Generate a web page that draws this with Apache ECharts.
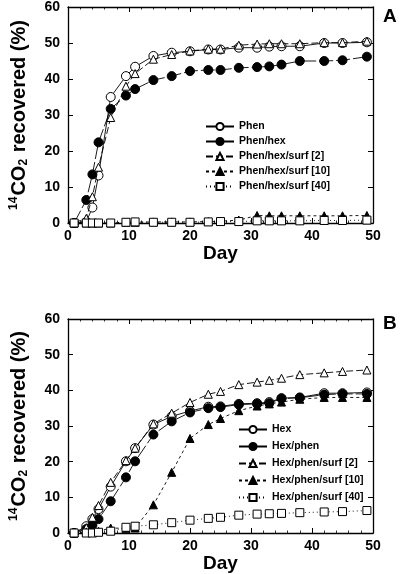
<!DOCTYPE html>
<html>
<head>
<meta charset="utf-8">
<script src="https://cdn.jsdelivr.net/npm/echarts@6/dist/echarts.min.js"></script>
<style>
html,body{margin:0;padding:0;background:#fff;}
#c{width:400px;height:574px;}
</style>
</head>
<body>
<div id="c"></div>
<script>
// ---- data ----
var days = [1, 3, 4, 5, 7, 9.5, 11, 14, 17, 20, 23, 25, 28, 31, 33, 35, 38, 42, 45, 49];

// Panel A
var namesA = ['Phen', 'Phen/hex', 'Phen/hex/surf [2]', 'Phen/hex/surf [10]', 'Phen/hex/surf [40]'];
var phen          = [0, 0.3, 4.3, 13.2, 35.0, 40.8, 43.4, 46.4, 47.3, 47.7, 48.2, 48.2, 48.7, 48.7, 49.0, 49.1, 49.1, 50.0, 50.0, 50.2];
var phenHex       = [0, 6.4, 13.5, 22.4, 31.7, 35.4, 37.2, 39.7, 40.8, 42.2, 42.5, 42.5, 43.1, 43.3, 43.5, 44.0, 45.0, 45.0, 45.2, 46.2];
var phenHexSurf2  = [0, 1.3, 7.3, 15.5, 29.3, 38.0, 41.5, 45.5, 46.8, 47.8, 48.3, 48.3, 49.4, 49.7, 49.8, 49.8, 49.8, 50.1, 50.1, 50.5];
var phenHexSurf10 = [0, 0, 0, 0, 0, 0.2, 0.2, 0.3, 0.3, 0.3, 0.4, 0.5, 0.8, 2.1, 2.0, 2.0, 2.0, 2.0, 2.0, 2.1];
var phenHexSurf40 = [0, 0, 0, 0, 0, 0.2, 0.3, 0.2, 0.2, 0.2, 0.3, 0.4, 0.4, 0.6, 0.6, 0.6, 0.6, 0.7, 0.7, 0.8];

// Panel B
var namesB = ['Hex', 'Hex/phen', 'Hex/phen/surf [2]', 'Hex/phen/surf [10]', 'Hex/phen/surf [40]'];
var hex           = [0, 1.9, 3.9, 6.7, 13.0, 20.1, 23.8, 30.4, 32.7, 34.2, 35.4, 35.5, 36.2, 36.4, 36.7, 37.8, 38.0, 39.2, 39.2, 39.4];
var hexPhen       = [0, 1.1, 2.2, 3.9, 8.9, 15.6, 20.1, 27.6, 31.3, 33.8, 35.0, 35.3, 36.0, 36.2, 36.4, 37.7, 37.9, 38.8, 39.0, 39.0];
var hexPhenSurf2  = [0, 1.5, 4.4, 7.7, 14.2, 20.3, 23.8, 30.6, 33.6, 36.6, 38.9, 39.7, 41.6, 42.3, 42.8, 43.4, 44.4, 44.9, 45.3, 45.7];
var hexPhenSurf10 = [0, 0.3, 0.3, 0.5, 1.4, 1.3, 1.4, 7.9, 17.0, 26.5, 30.4, 32.1, 34.3, 35.6, 36.2, 36.7, 37.5, 38.0, 38.0, 38.0];
var hexPhenSurf40 = [0, 0, 0, 0.2, 0.5, 1.6, 1.9, 2.3, 2.9, 3.6, 4.1, 4.4, 5.0, 5.3, 5.4, 5.5, 5.7, 5.9, 6.0, 6.3];

// ---- styles ----
var FONT = 'Liberation Sans, Arial, sans-serif';
function pairs(vals){ return days.map(function(d,i){ return [d, vals[i]]; }); }

var styleDefs = [
  {symbol:'circle',   fill:'#fff', dash:'solid'},
  {symbol:'circle',   fill:'#000', dash:[14,3]},
  {symbol:'triangle', fill:'#fff', dash:[7,3]},
  {symbol:'triangle', fill:'#000', dash:[3,3]},
  {symbol:'rect',     fill:'#fff', dash:[1,3]}
];

function mkSeries(name, vals, k, axisIdx){
  var s = styleDefs[k];
  return {
    name: name, type:'line', data: pairs(vals),
    xAxisIndex: axisIdx, yAxisIndex: axisIdx,
    symbol: s.symbol,
    symbolSize: s.symbol === 'triangle' ? 8 : (s.symbol === 'rect' ? 8 : 9),
    itemStyle: {color: s.fill, borderColor:'#000', borderWidth:1},
    lineStyle: {color:'#000', width:0.9, type: s.dash},
    animation:false, z: 2 + k
  };
}

function xAx(grid, top){
  return {
    type:'value', gridIndex:grid, min:0, max:50, interval:10,
    position: top ? 'top' : 'bottom',
    axisLine:{show:true, onZero:false, lineStyle:{color:'#000', width:1.3}},
    axisTick:{show:true, inside:true, length:5, lineStyle:{color:'#000', width:1}},
    minorTick:{show:true, splitNumber:5, length:2.5, lineStyle:{color:'#000', width:0.8}},
    splitLine:{show:false},
    axisLabel:{show:!top, color:'#000', fontFamily:FONT, fontWeight:'bold', fontSize:14, margin:6},
    name: top ? '' : 'Day',
    nameLocation:'middle', nameGap:17,
    nameTextStyle:{color:'#000', fontFamily:FONT, fontWeight:'bold', fontSize:19}
  };
}
function yAx(grid, right, fs){
  return {
    type:'value', gridIndex:grid, min:0, max:60, interval:10,
    position: right ? 'right' : 'left',
    axisLine:{show:true, onZero:false, lineStyle:{color:'#000', width:1.3}},
    axisTick:{show:true, inside:true, length:5, lineStyle:{color:'#000', width:1}},
    splitLine:{show:false},
    axisLabel:{show:!right, color:'#000', fontFamily:FONT, fontWeight:'bold', fontSize:14, margin:8},
    name: right ? '' : '{sup|14}{b|CO}{sub|2}{b| recovered (%)}',
    nameLocation:'middle', nameRotate:90, nameGap:38,
    nameTextStyle:{color:'#000', fontFamily:FONT, fontWeight:'bold', fontSize:fs,
      rich:{
        b:{fontSize:fs, fontWeight:'bold', fontFamily:FONT, color:'#000'},
        sup:{fontSize:Math.round(fs*0.6), fontWeight:'bold', fontFamily:FONT, color:'#000', verticalAlign:'top', padding:[0,1,Math.round(fs*0.5),0]},
        sub:{fontSize:Math.round(fs*0.6), fontWeight:'bold', fontFamily:FONT, color:'#000', verticalAlign:'bottom', padding:[Math.round(fs*0.45),1,0,0]}
      }}
  };
}

function legendFor(names, left, top, gap){
  return {
    data: names, orient:'vertical', left:left, top:top,
    itemWidth:28, itemHeight:9, itemGap:gap,
    textStyle:{color:'#000', fontFamily:FONT, fontWeight:'bold', fontSize:10.5},
    selectedMode:false
  };
}

var seriesA = [phen, phenHex, phenHexSurf2, phenHexSurf10, phenHexSurf40];
var seriesB = [hex, hexPhen, hexPhenSurf2, hexPhenSurf10, hexPhenSurf40];
var series = [];
seriesA.forEach(function(v,k){ series.push(mkSeries(namesA[k], v, k, 0)); });
seriesB.forEach(function(v,k){ series.push(mkSeries(namesB[k], v, k, 2)); });
// empty series so the top/right frame axes are active
series.push({type:'line', data:[], xAxisIndex:1, yAxisIndex:1, silent:true});
series.push({type:'line', data:[], xAxisIndex:3, yAxisIndex:3, silent:true});

var chart = echarts.init(document.getElementById('c'), null, {renderer:'canvas'});
chart.setOption({
  backgroundColor:'#fff',
  animation:false,
  title:[
    {text:'A', left:378, top:2, textStyle:{color:'#000', fontFamily:FONT, fontWeight:'bold', fontSize:19}},
    {text:'B', left:378, top:309, textStyle:{color:'#000', fontFamily:FONT, fontWeight:'bold', fontSize:19}}
  ],
  grid:[
    {left:63, top:7, width:310, height:216},
    {left:63, top:319, width:310, height:214}
  ],
  xAxis:[xAx(0,false), xAx(0,true), xAx(1,false), xAx(1,true)],
  yAxis:[yAx(0,false,20), yAx(0,true,20), yAx(1,false,20), yAx(1,true,20)],
  legend:[ legendFor(namesA, 200, 116, 4), legendFor(namesB, 233, 419, 6) ],
  series: series
});
</script>
</body>
</html>
